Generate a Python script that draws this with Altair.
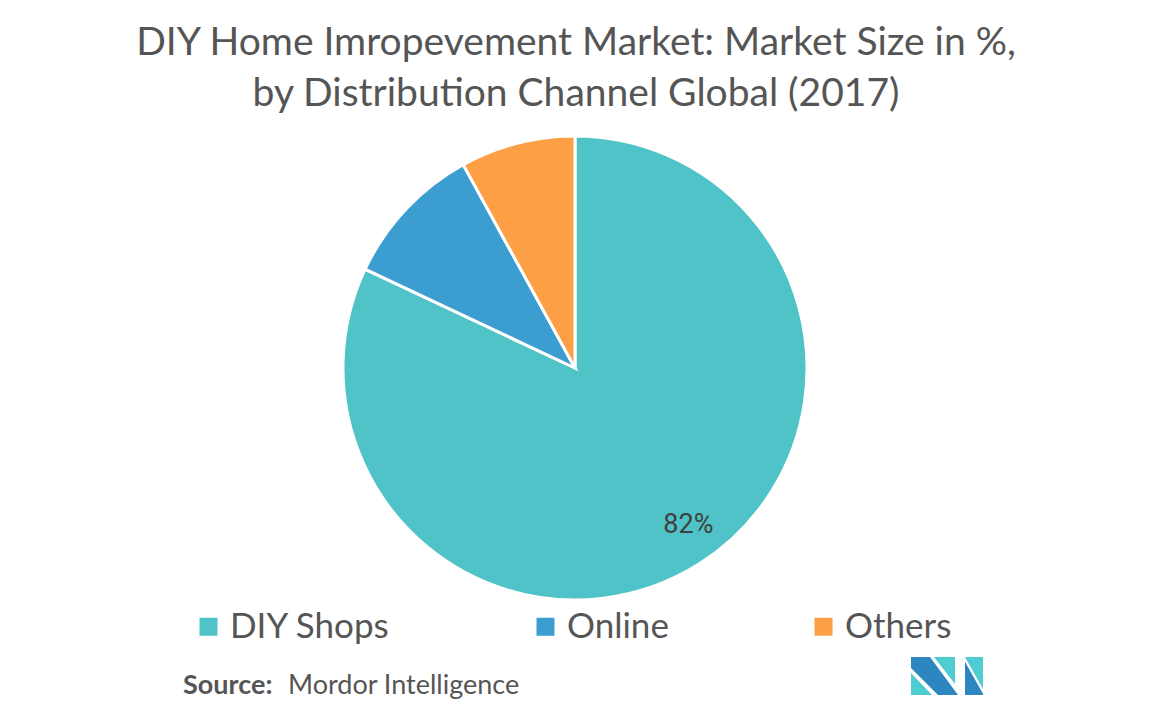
import altair as alt
import pandas as pd

channels = ["DIY Shops", "Online", "Others"]
shares = [82, 10, 8]
colors = ["#4FC3C7", "#3C9DD0", "#FD9F45"]
title_lines = ["DIY Home Imropevement Market: Market Size in %,",
               "by Distribution Channel Global (2017)"]
source_bold = "Source:"
source_text = "Mordor Intelligence"

df = pd.DataFrame({"channel": channels, "share": shares, "idx": list(range(len(channels)))})

CX, CY, R = 567, 360, 232
TXT = "#555555"

base = alt.Chart(df).encode(
    theta=alt.Theta("share:Q", stack=True),
    order=alt.Order("idx:Q", sort="ascending"),
)

arcs = base.mark_arc(outerRadius=R, stroke="white", strokeWidth=3).encode(
    x=alt.value(CX), y=alt.value(CY),
    color=alt.Color("channel:N",
                    scale=alt.Scale(domain=channels, range=colors),
                    legend=alt.Legend(
                        title=None, orient="none", direction="horizontal", columns=3,
                        legendX=183, legendY=601, padding=0,
                        symbolType="square", symbolSize=324, symbolStrokeWidth=0,
                        symbolOpacity=1,
                        labelFont="Lato", labelFontSize=35, labelColor=TXT,
                        labelOffset=4, columnPadding=137, labelLimit=400,
                    )),
)

labels = base.transform_calculate(
    lab="datum.share > 50 ? datum.share + '%' : ''"
).mark_text(radius=193, dx=10, dy=-6, font="Roboto", fontSize=27, color="#404040").encode(
    x=alt.value(CX), y=alt.value(CY), text="lab:N",
)

t1 = alt.Chart(pd.DataFrame({"t": [title_lines[0]]})).mark_text(
    font="Lato", fontSize=39, color=TXT, align="center", baseline="alphabetic"
).encode(x=alt.value(568), y=alt.value(47), text="t:N")
t2 = alt.Chart(pd.DataFrame({"t": [title_lines[1]]})).mark_text(
    font="Lato", fontSize=39, color=TXT, align="center", baseline="alphabetic"
).encode(x=alt.value(568), y=alt.value(98), text="t:N")

src1 = alt.Chart(pd.DataFrame({"t": [source_bold]})).mark_text(
    font="Lato", fontSize=27, fontWeight="bold", color=TXT, align="left", baseline="alphabetic"
).encode(x=alt.value(175), y=alt.value(686), text="t:N")
src2 = alt.Chart(pd.DataFrame({"t": [source_text]})).mark_text(
    font="Lato", fontSize=27, color=TXT, align="left", baseline="alphabetic"
).encode(x=alt.value(280), y=alt.value(686), text="t:N")

logo_paths = [
    "M-0.9,-0.5L-0.425,-0.5L0.275,0.45L-0.225,0.45L-0.9,-0.225Z",
    "M-0.9,-0.1L-0.9,0.45L-0.375,0.45Z",
    "M-0.325,-0.5L0.2,-0.5L0.2,0.175Z",
    "M0.45,-0.5L0.9,-0.5L0.9,0.3Z",
    "M0.45,-0.38L0.45,0.45L0.9,0.45L0.9,0.42Z",
]
logo_cols = ["#2C86BF", "#4FCBD2", "#4FCBD2", "#4FCBD2", "#2C86BF"]
logo = alt.Chart(pd.DataFrame({"p": logo_paths, "c": logo_cols})).mark_point(
    filled=True, opacity=1, size=6400, strokeWidth=0
).encode(
    x=alt.value(939), y=alt.value(669),
    shape=alt.Shape("p:N", scale=None),
    color=alt.Color("c:N", scale=None),
)

chart = alt.layer(arcs, labels, t1, t2, src1, src2, logo).resolve_scale(
    color="independent", shape="independent"
).properties(
    width=1138, height=700, padding=0,
    autosize=alt.AutoSizeParams(type="fit", contains="padding"),
).configure_view(stroke=None)

chart.save("out.html", embed_options={"renderer": "svg", "actions": False})
